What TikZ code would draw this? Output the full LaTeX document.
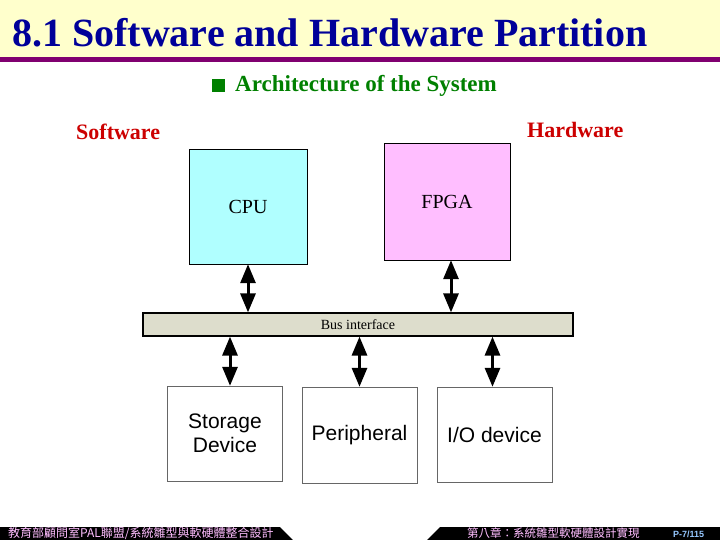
\documentclass[tikz,border=0pt]{standalone}
\usepackage{xcolor}
\usepackage{fontspec}
\setmainfont{Liberation Serif}
\newfontfamily\arialfont{Liberation Sans}
\newfontfamily\cjk{Noto Sans CJK TC}
\usepackage{tikz}
\usetikzlibrary{arrows.meta,positioning,calc}
\definecolor{headyellow}{RGB}{255,255,204}
\definecolor{headpurple}{RGB}{128,0,112}
\definecolor{titleblue}{RGB}{0,0,153}
\definecolor{bulletgreen}{RGB}{0,128,0}
\definecolor{sidered}{RGB}{204,0,0}
\definecolor{cpucyan}{RGB}{176,255,255}
\definecolor{fpgapink}{RGB}{255,190,255}
\definecolor{busbeige}{RGB}{221,221,204}
\definecolor{footpink}{RGB}{255,190,255}
\definecolor{footblue}{RGB}{150,200,255}

\begin{document}
\begin{tikzpicture}[
    x=1pt, y=-1pt,
    chip/.style={rectangle, draw, thin, align=center, font=\fontsize{20}{20}\selectfont},
    device/.style={rectangle, draw=black!60, fill=white, align=center, minimum width=115pt, minimum height=95pt, font=\arialfont\fontsize{21}{24}\selectfont},
    bus/.style={rectangle, draw, line width=1.2pt, fill=busbeige, minimum width=430pt, minimum height=23pt, font=\fontsize{14}{14}\selectfont},
    side/.style={anchor=base west, text=sidered, font=\fontsize{22}{22}\selectfont\bfseries, inner sep=0pt},
    foot/.style={anchor=west, text=footpink, inner sep=0pt, font=\cjk\fontsize{12}{12}\selectfont},
    link/.style={{Triangle[width=15pt,length=19pt]}-{Triangle[width=15pt,length=19pt]}, line width=3pt}
]
    \useasboundingbox (0,0) rectangle (720,540);

    % header
    \fill[headyellow] (0,0) rectangle (720,57);
    \fill[headpurple] (0,57) rectangle (720,62.5);
    \node[anchor=base west, inner sep=0pt, text=titleblue, font=\fontsize{40}{40}\selectfont\bfseries] (title) at (12,47) {8.1 Software and Hardware Partition};

    \node[rectangle, fill=bulletgreen, minimum size=13pt, inner sep=0pt] (bullet) at (218.5,85.5) {};
    \node[anchor=base west, inner sep=0pt, text=bulletgreen, font=\fontsize{23}{23}\selectfont\bfseries] (subtitle) at (235,92) {Architecture of the System};

    \node[side] (sw) at (76,140) {Software};
    \node[side] (hw) at (527,138) {Hardware};

    % processing elements and bus
    \node[chip, fill=cpucyan, minimum width=118pt, minimum height=115pt] (cpu) at (248,206.5) {CPU};
    \node[chip, fill=fpgapink, minimum width=126pt, minimum height=117pt] (fpga) at (447,201.5) {FPGA};
    \node[bus] (bus) at (358,324.5) {Bus interface};

    \node[device] (storage) at (225,433.5) {Storage\\Device};
    \node[device, minimum height=96pt] (periph) at (359.5,435) {Peripheral};
    \node[device] (io) at (494.5,434.5) {I/O device};

    \draw[link] (cpu.south) -- (cpu.south |- bus.north);
    \draw[link] ([xshift=4pt]fpga.south) -- ([xshift=4pt]fpga.south |- bus.north);
    \draw[link] ([xshift=5pt]storage.north |- bus.south) -- ([xshift=5pt]storage.north);
    \draw[link] (periph.north |- bus.south) -- (periph.north);
    \draw[link] ([xshift=-2pt]io.north |- bus.south) -- ([xshift=-2pt]io.north);

    % footer
    \fill[black] (0,527) -- (280,527) -- (293,540) -- (0,540) -- cycle;
    \fill[black] (440,527) -- (720,527) -- (720,540) -- (427,540) -- cycle;
    \node[foot] (footl) at (8,533.5) {教育部顧問室PAL聯盟/系統雛型與軟硬體整合設計};
    \node[foot, font=\cjk\fontsize{11.5}{11.5}\selectfont] (footr) at (467,533.5) {第八章：系統雛型軟硬體設計實現};
    \node[anchor=west, inner sep=0pt, text=footblue, font=\arialfont\fontsize{9}{9}\selectfont\bfseries] (page) at (673,534) {P-7/115};
\end{tikzpicture}
\end{document}
